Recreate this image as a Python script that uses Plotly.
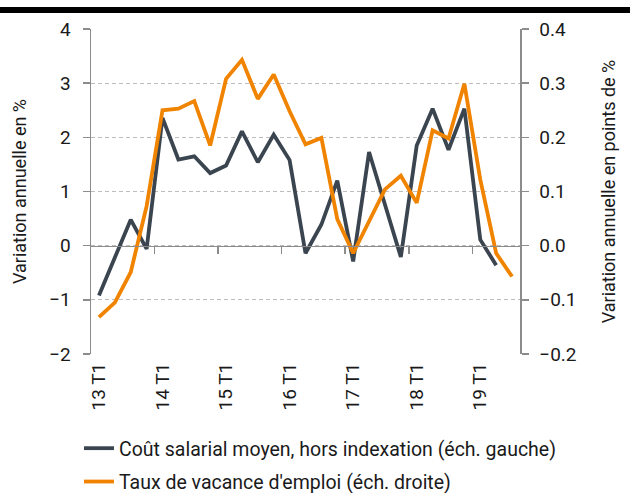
import plotly.graph_objects as go

categories = ["13 T1", "13 T2", "13 T3", "13 T4",
              "14 T1", "14 T2", "14 T3", "14 T4",
              "15 T1", "15 T2", "15 T3", "15 T4",
              "16 T1", "16 T2", "16 T3", "16 T4",
              "17 T1", "17 T2", "17 T3", "17 T4",
              "18 T1", "18 T2", "18 T3", "18 T4",
              "19 T1", "19 T2", "19 T3"]

cout_salarial = [-0.92, -0.22, 0.48, -0.06, 2.36, 1.59, 1.65, 1.34, 1.48, 2.11,
                 1.54, 2.05, 1.58, -0.14, 0.39, 1.20, -0.29, 1.73, 0.78, -0.21,
                 1.85, 2.53, 1.77, 2.53, 0.11, -0.36]

taux_vacance = [-0.132, -0.105, -0.049, 0.073, 0.250, 0.253, 0.267, 0.185, 0.308,
                0.343, 0.271, 0.316, 0.248, 0.187, 0.199, 0.049, -0.014, 0.045,
                0.104, 0.129, 0.079, 0.213, 0.198, 0.299, 0.122, -0.014, -0.057]

label_ticks = ["13 T1", "14 T1", "15 T1", "16 T1", "17 T1", "18 T1", "19 T1"]
year_boundaries = [3.5, 7.5, 11.5, 15.5, 19.5, 23.5]

name_cout = "Coût salarial moyen, hors indexation (éch. gauche)"
name_taux = "Taux de vacance d'emploi (éch. droite)"

DARK = "#3b4550"
ORANGE = "#f08400"
AXIS = "#8c8c8c"
GRID = "#bdbdbd"
FONT = "Roboto"

fig = go.Figure()
fig.add_trace(go.Scatter(x=categories[:len(cout_salarial)], y=cout_salarial, name=name_cout,
                         mode="lines", line=dict(color=DARK, width=3.8),
                         xaxis="x", yaxis="y", legendgroup="a", hoverinfo="skip"))
fig.add_trace(go.Scatter(x=categories, y=taux_vacance, name=name_taux,
                         mode="lines", line=dict(color=ORANGE, width=3.8),
                         xaxis="x2", yaxis="y2", legendgroup="b", hoverinfo="skip"))

L, R, T, B = 91, 110, 29, 139
W, H = 630, 493
pw = W - L - R
ph = H - T - B

fig.update_layout(
    width=W, height=H,
    margin=dict(l=L, r=R, t=T, b=B, autoexpand=False),
    paper_bgcolor="white", plot_bgcolor="white",
    font=dict(family=FONT, size=18, color="#1a1a1a"),
    hovermode=False,
    showlegend=True,
    legend=dict(x=(79 - L) / pw, xanchor="left", y=-(429 - T - ph) / ph, yanchor="top",
                orientation="v", traceorder="grouped", tracegroupgap=5,
                font=dict(size=19.5), bgcolor="rgba(0,0,0,0)"),
    xaxis=dict(type="category", categoryorder="array", categoryarray=categories,
               range=[-0.5, len(categories) - 0.5], automargin=False,
               tickmode="array", tickvals=label_ticks, ticktext=label_ticks,
               tickangle=-90, ticks="", showline=False, showgrid=False, zeroline=False,
               ticklabelstandoff=4, tickfont=dict(size=19)),
    xaxis2=dict(type="category", categoryorder="array", categoryarray=categories,
                range=[-0.5, len(categories) - 0.5], overlaying="x", anchor="free",
                position=2 / 6, tickmode="array", tickvals=year_boundaries,
                showticklabels=False, ticks="outside", ticklen=7, tickcolor=AXIS,
                tickwidth=1.5, showline=True, linecolor=AXIS, linewidth=1.5,
                showgrid=False, zeroline=False, automargin=False),
    yaxis=dict(range=[-2, 4], dtick=1, tick0=0, showgrid=True, gridcolor=GRID,
               griddash="4px,3px", gridwidth=1, showline=True, linecolor=AXIS, linewidth=1.5,
               ticks="outside", ticklen=7, tickcolor=AXIS, tickwidth=1.5, zeroline=False,
               automargin=False, ticklabelstandoff=8,
               title=dict(text="Variation annuelle en %", standoff=18, font=dict(size=18)),
               tickfont=dict(size=19)),
    yaxis2=dict(range=[-0.2, 0.4], dtick=0.1, tick0=0, tickformat=".1f", overlaying="y",
                side="right", anchor="x", showgrid=False, showline=True, linecolor=AXIS,
                linewidth=1.5, ticks="outside", ticklen=7, tickcolor=AXIS, tickwidth=1.5,
                zeroline=False, automargin=False, ticklabelstandoff=7,
                title=dict(text="Variation annuelle en points de %", standoff=27,
                           font=dict(size=18)),
                tickfont=dict(size=19)),
    shapes=[dict(type="rect", xref="paper", yref="paper",
                 x0=-L / pw, x1=1 + R / pw,
                 y0=1 + (T - 13) / ph, y1=1 + (T - 7) / ph,
                 fillcolor="black", line=dict(width=0), layer="above")],
)

fig.write_html("out.html", config={"displayModeBar": False, "staticPlot": True},
               post_script="document.body.style.margin='0px';document.body.style.overflow='hidden';")
